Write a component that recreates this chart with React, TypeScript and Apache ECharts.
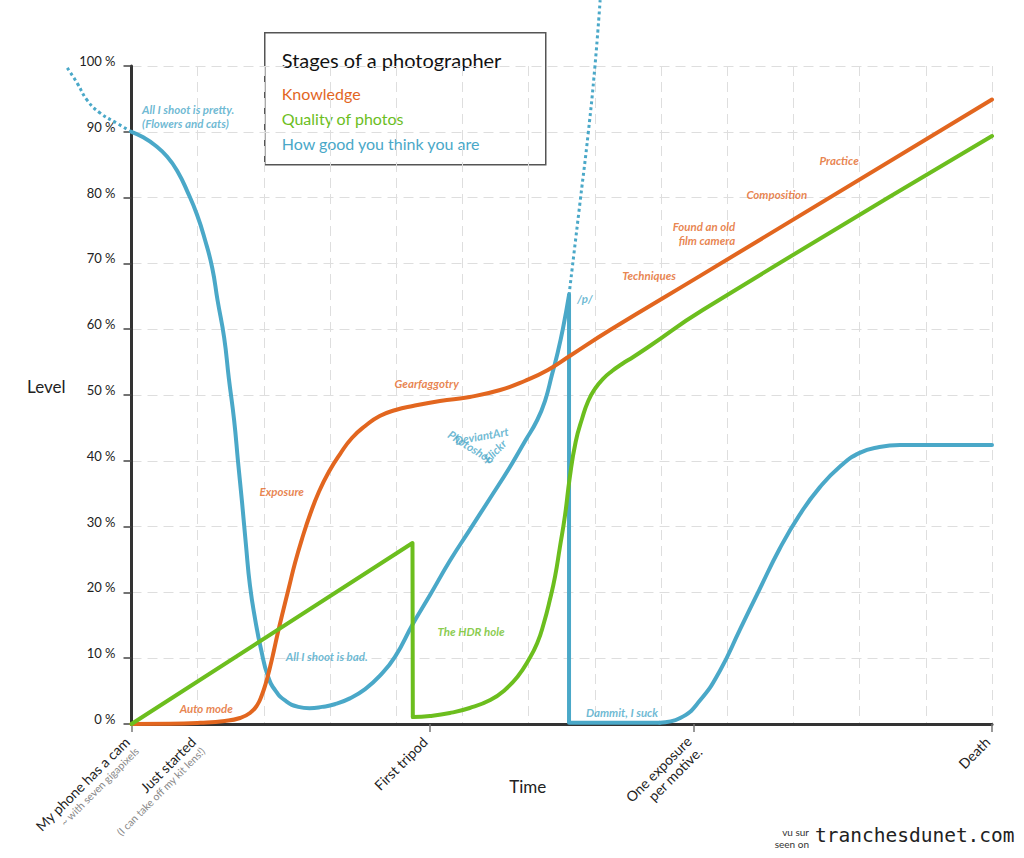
import React, { useEffect, useRef } from "react";
import * as echarts from "echarts";

const ORANGE = "#E2661F";
const GREEN = "#6CBE1E";
const BLUE = "#4AA8C8";

// Knowledge (orange)
const knowledge: number[][] = [
  [0, 0], [0.58, 0.03], [1.04, 0.18], [1.41, 0.46], [1.64, 0.91], [1.79, 1.67], [1.9, 2.89],
  [1.97, 4.41], [2.03, 6.23], [2.09, 8.51], [2.15, 11.09], [2.21, 13.83], [2.29, 17.17],
  [2.38, 20.82], [2.47, 24.47], [2.58, 28.27], [2.7, 31.91], [2.83, 35.26], [2.98, 38.3],
  [3.15, 41.03], [3.33, 43.47], [3.53, 45.29], [3.75, 46.81], [3.99, 47.72], [4.25, 48.33],
  [4.66, 49.09], [5.11, 49.7], [5.57, 50.76], [5.94, 52.13], [6.29, 53.8], [6.62, 55.93],
  [7.23, 59.88], [8.59, 68.1], [13, 94.9],
];

// Quality of photos (green)
const qualityRise: number[][] = [[0, 0], [4.245, 27.5], [4.25, 1.06]];
const qualityCurve: number[][] = [
  [4.25, 1.06], [4.51, 1.22], [4.81, 1.67], [5.11, 2.43], [5.42, 3.65], [5.64, 5.17],
  [5.84, 7.29], [5.99, 9.57], [6.13, 12.31], [6.23, 15.35], [6.32, 18.84], [6.4, 22.49],
  [6.47, 26.75], [6.55, 31.76], [6.62, 37.39], [6.71, 42.86], [6.81, 46.5], [6.9, 49.09],
  [7.0, 50.91], [7.12, 52.43], [7.26, 53.65], [7.41, 54.71], [7.58, 55.78], [7.83, 57.45],
  [8.63, 62.92], [13, 89.36],
];

// How good you think you are (blue)
const selfDotLeft: number[][] = [
  [-0.97, 99.7], [-0.82, 97.4], [-0.67, 94.8], [-0.48, 92.9], [-0.22, 91.3], [0, 90],
];
const selfFall: number[][] = [
  [0, 90], [0.17, 89.2], [0.35, 88.0], [0.54, 86.2], [0.7, 83.9], [0.85, 80.8], [0.99, 77.4],
  [1.11, 73.6], [1.22, 69.3], [1.3, 64.4], [1.4, 58.7], [1.47, 52.6], [1.55, 46.2],
  [1.61, 39.8], [1.67, 33.7], [1.73, 27.1], [1.79, 21.0], [1.87, 15.8], [1.96, 11.2],
  [2.06, 7.3], [2.18, 5.0], [2.33, 3.5], [2.52, 2.6], [2.69, 2.4], [2.88, 2.6], [3.07, 3.0],
  [3.3, 3.9], [3.53, 5.3], [3.75, 7.3], [3.98, 10.2], [4.25, 15.2], [4.51, 19.6],
  [4.81, 24.8], [5.11, 29.5], [5.41, 34.2], [5.72, 39.1], [5.94, 42.9], [6.13, 46.2],
  [6.25, 49.2], [6.35, 53.0], [6.44, 56.5], [6.52, 60.2], [6.61, 65.2],
];
const selfCrash: number[][] = [[6.61, 65.2], [6.61, 0.2], [7.98, 0.2]];
const selfRecover: number[][] = [
  [7.98, 0.2], [8.29, 0.9], [8.59, 3.6], [8.89, 8.1], [9.19, 14.3], [9.49, 20.5],
  [9.79, 26.6], [10.1, 31.9], [10.4, 36.0], [10.7, 39.1], [11.0, 41.2], [11.3, 42.1],
  [11.61, 42.4], [12.06, 42.4], [13, 42.4],
];
const selfDotUp: number[][] = [
  [6.61, 65.2], [6.78, 79.6], [6.9, 89.8], [7.0, 99.8], [7.08, 110],
];

// Time axis
const timeTickValues = [0, 4.5, 8.5, 13];
const timeLabelValues = [0, 1, 4.5, 8.5, 13];
const timeLabels = [
  "{a|My phone has a cam}\n{b|~ with seven gigapixels}",
  "{a|Just started}\n{b|(I can take off my kit lens!)}",
  "{a|First tripod}\n{b| }",
  "{a|One exposure}\n{a|per motive.}",
  "{a|Death}\n{b| }",
];

// Annotations: text, x, y, color, rotate, position
const notes: [string, number, number, string, number, string][] = [
  ["All I shoot is pretty.\n(Flowers and cats)", 0.16, 92.4, BLUE, 0, "right"],
  ["Auto mode", 1.13, 2.4, ORANGE, 0, "inside"],
  ["Exposure", 2.27, 35.4, ORANGE, 0, "inside"],
  ["Gearfaggotry", 4.46, 51.7, ORANGE, 0, "inside"],
  ["All I shoot is bad.", 2.95, 10.3, BLUE, 0, "inside"],
  ["The HDR hole", 5.13, 14.0, GREEN, 0, "inside"],
  ["DeviantArt", 5.29, 43.8, BLUE, 10, "inside"],
  ["Photoshop", 5.13, 42.1, BLUE, -32, "inside"],
  ["Flickr", 5.49, 41.5, BLUE, 45, "inside"],
  ["/p/", 6.85, 64.7, BLUE, 0, "inside"],
  ["Dammit, I suck", 7.41, 1.7, BLUE, 0, "inside"],
  ["Techniques", 7.82, 68.1, ORANGE, 0, "inside"],
  ["Found an old\nfilm camera", 9.12, 74.5, ORANGE, 0, "left"],
  ["Composition", 9.75, 80.5, ORANGE, 0, "inside"],
  ["Practice", 10.69, 85.6, ORANGE, 0, "inside"],
];

const legendItems: [string, string][] = [
  ["Knowledge", ORANGE],
  ["Quality of photos", GREEN],
  ["How good you think you are", BLUE],
];

const FONT = "Lato, 'Open Sans', sans-serif";
const SMOOTH = 0.5;

function lineSeries(
  name: string,
  data: number[][],
  color: string,
  smooth: number,
  dotted = false,
  xAxisIndex = 0,
  yAxisIndex = 0
) {
  return {
    type: "line",
    name,
    data,
    xAxisIndex,
    yAxisIndex,
    smooth,
    showSymbol: false,
    symbol: "none",
    clip: false,
    silent: true,
    lineStyle: {
      color,
      width: dotted ? 3 : 4,
      type: dotted ? [3, 3] : "solid",
      cap: dotted ? "butt" : "round",
      join: "round",
    },
  };
}

export default function App() {
  const ref = useRef<HTMLDivElement>(null);
  useEffect(() => {
    if (!ref.current) return;
    document.body.style.margin = "0";
    const chart = echarts.init(ref.current, undefined, { renderer: "svg" });
    const splitStyle = { type: [10, 6], color: "#dedede", width: 1 };
    chart.setOption({
      animation: false,
      backgroundColor: "#fff",
      grid: [
        { left: 131.5, right: 32, top: 66, bottom: 134, containLabel: false, outerBoundsMode: "none" },
        // same scale, extended one unit to the left for the dotted lead-in
        { left: 65.3, right: 32, top: 66, bottom: 134, containLabel: false, outerBoundsMode: "none" },
      ],
      xAxis: [
        {
          type: "value",
          gridIndex: 0,
          min: 0,
          max: 13,
          interval: 1,
          axisLine: { show: true, onZero: false, lineStyle: { color: "#333", width: 3 } },
          axisTick: { show: false },
          axisLabel: { show: false },
          splitLine: { show: true, lineStyle: splitStyle },
        },
        {
          type: "value",
          gridIndex: 0,
          min: 0,
          max: 13,
          position: "bottom",
          name: "Time",
          nameLocation: "middle",
          nameGap: 54,
          nameMoveOverlap: false,
          nameTextStyle: { fontFamily: FONT, fontSize: 17, color: "#222", padding: [0, 68, 0, 0] },
          axisLine: { show: false },
          axisTick: {
            show: true,
            length: 8,
            customValues: timeTickValues,
            lineStyle: { color: "#777", width: 1.5 },
          },
          axisLabel: {
            show: true,
            customValues: timeLabelValues,
            rotate: 45,
            margin: 20,
            fontFamily: FONT,
            formatter: (v: number) => {
              const i = timeLabelValues.findIndex((t) => Math.abs(t - v) < 1e-6);
              return i >= 0 ? timeLabels[i] : "";
            },
            rich: {
              a: { fontFamily: FONT, fontSize: 14, color: "#222", lineHeight: 15 },
              b: { fontFamily: FONT, fontSize: 10.5, color: "#888", lineHeight: 13 },
            },
          },
          splitLine: { show: false },
        },
        {
          type: "value",
          gridIndex: 1,
          min: -1,
          max: 13,
          show: false,
        },
      ],
      yAxis: [
        {
          type: "value",
          gridIndex: 0,
          min: 0,
          max: 100,
          interval: 10,
          name: "Level",
          nameLocation: "middle",
          nameRotate: 0,
          nameGap: 66,
          nameMoveOverlap: false,
          nameTextStyle: { fontFamily: FONT, fontSize: 17, color: "#222", verticalAlign: "bottom" },
          axisLine: { show: true, onZero: false, lineStyle: { color: "#333", width: 3 } },
          axisTick: { show: true, length: 8, lineStyle: { color: "#444", width: 1.5 } },
          axisLabel: {
            formatter: "{value} %",
            fontFamily: FONT,
            fontSize: 13,
            color: "#222",
            margin: 16,
            verticalAlign: "bottom",
            lineHeight: 10,
          },
          splitLine: { show: true, lineStyle: splitStyle },
        },
        {
          type: "value",
          gridIndex: 1,
          min: 0,
          max: 100,
          show: false,
        },
      ],
      series: [
        lineSeries("How good you think you are (before)", selfDotLeft, BLUE, SMOOTH, true, 2, 1),
        lineSeries("How good you think you are", selfFall, BLUE, SMOOTH),
        lineSeries("How good you think you are (crash)", selfCrash, BLUE, 0),
        lineSeries("How good you think you are (recover)", selfRecover, BLUE, SMOOTH),
        lineSeries("How good you think you are (ego)", selfDotUp, BLUE, SMOOTH, true),
        lineSeries("Knowledge", knowledge, ORANGE, SMOOTH),
        lineSeries("Quality of photos (start)", qualityRise, GREEN, 0),
        lineSeries("Quality of photos", qualityCurve, GREEN, SMOOTH),
        {
          type: "scatter",
          name: "notes",
          xAxisIndex: 0,
          yAxisIndex: 0,
          symbolSize: 0,
          silent: true,
          clip: false,
          z: 5,
          data: notes.map(([text, x, y, color, rotate, position]) => ({
            value: [x, y],
            label: {
              show: true,
              formatter: text,
              color,
              rotate,
              position,
              distance: 0,
              fontFamily: FONT,
              fontStyle: "italic",
              fontWeight: "bold",
              fontSize: 11.5,
              lineHeight: 14,
              align: position === "left" ? "right" : position === "right" ? "left" : "center",
              verticalAlign: "middle",
            },
          })),
        },
      ],
      graphic: [
        {
          type: "group",
          left: 264,
          top: 32,
          z: 50,
          children: [
            {
              type: "rect",
              shape: { x: 0, y: 0, width: 281, height: 132 },
              style: { fill: "#fff", stroke: "#555", lineWidth: 1.5 },
            },
            {
              type: "text",
              x: 17,
              y: 27,
              style: {
                text: "Stages of a photographer",
                font: `20px ${FONT}`,
                fill: "#111",
                verticalAlign: "middle",
              },
            },
            ...legendItems.map(([t, c], i) => ({
              type: "text",
              x: 17,
              y: 61 + i * 25,
              style: { text: t, font: `16px ${FONT}`, fill: c, verticalAlign: "middle" },
            })),
          ],
        },
        {
          type: "text",
          right: 215,
          top: 827,
          style: { text: "vu sur", font: `10px ${FONT}`, fill: "#333", align: "right" },
        },
        {
          type: "text",
          right: 215,
          top: 839,
          style: { text: "seen on", font: `10px ${FONT}`, fill: "#333", align: "right" },
        },
        {
          type: "text",
          left: 815,
          top: 825,
          style: { text: "tranchesdunet.com", font: `19.5px 'DejaVu Sans Mono', monospace`, fill: "#222" },
        },
      ],
    });
    return () => chart.dispose();
  }, []);
  return (
    <div
      ref={ref}
      style={{ position: "fixed", left: 0, top: 0, width: 1024, height: 858, background: "#fff" }}
    />
  );
}
